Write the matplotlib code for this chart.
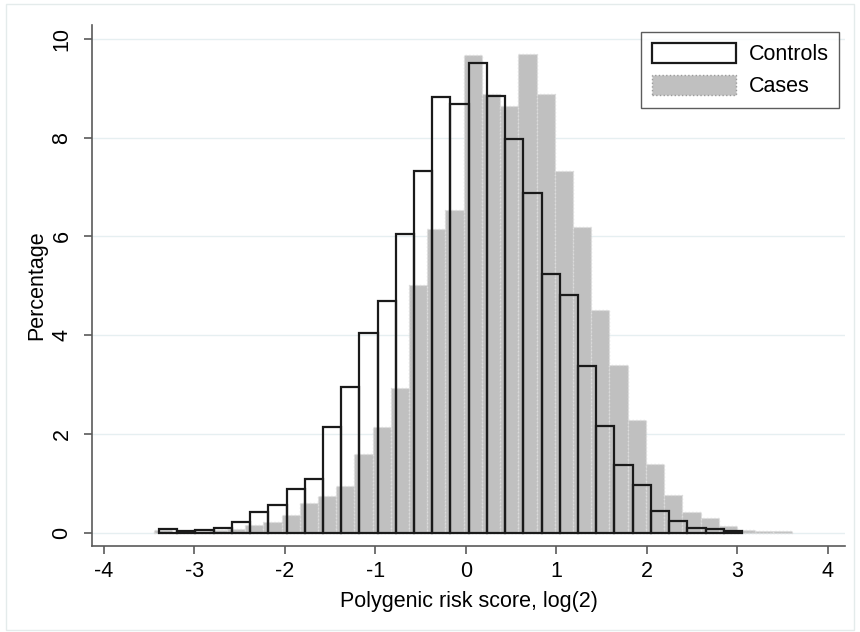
import numpy as np
import matplotlib
matplotlib.use("Agg")
import matplotlib.pyplot as plt
from matplotlib.patches import Patch, Rectangle

plt.rcParams['font.family'] = ['Liberation Sans', 'DejaVu Sans']

# Histogram data (percentage per bin)
bin_width = 0.2013
controls_start = -3.39
cases_start = -3.445
controls_pct = [0.07, 0.03, 0.06, 0.10, 0.23, 0.42, 0.57, 0.89, 1.10, 2.14,
                2.96, 4.05, 4.70, 6.05, 7.33, 8.83, 8.68, 9.52, 8.85, 7.98,
                6.87, 5.24, 4.81, 3.37, 2.17, 1.37, 0.97, 0.45, 0.24, 0.10,
                0.07, 0.04]
cases_pct = [0.05, 0.02, 0.04, 0.06, 0.07, 0.16, 0.23, 0.36, 0.61, 0.75,
             0.94, 1.60, 2.15, 2.93, 5.01, 6.15, 6.54, 9.68, 8.89, 8.64,
             9.69, 8.89, 7.33, 6.19, 4.51, 3.40, 2.29, 1.39, 0.77, 0.43,
             0.30, 0.14, 0.05, 0.04, 0.03]
x_ticks = [-4, -3, -2, -1, 0, 1, 2, 3, 4]
y_ticks = [0, 2, 4, 6, 8, 10]

W, H = 860, 632
fig = plt.figure(figsize=(W / 100, H / 100), dpi=100)
# axes box in pixels: left 92, right 845, top 25, bottom 546
ax = fig.add_axes([92 / W, 1 - 546 / H, (845 - 92) / W, (546 - 25) / H])

# light outer frame of the graph region
fig.add_artist(Rectangle((6 / W, 1 - 630 / H), (854 - 6) / W, (630 - 4) / H,
                         transform=fig.transFigure, fill=False,
                         edgecolor='#e4ebeb', lw=1))

cases_edges = cases_start + bin_width * np.arange(len(cases_pct))
controls_edges = controls_start + bin_width * np.arange(len(controls_pct))

ax.bar(cases_edges, cases_pct, width=bin_width, align='edge',
       color='#c0c0c0', edgecolor='#dcdcdc', linestyle=':', linewidth=1.0,
       zorder=2)
ax.bar(controls_edges, controls_pct, width=bin_width, align='edge',
       fill=False, edgecolor='#1a1a1a', linewidth=1.6, zorder=3)

ax.set_xlim(-4.13, 4.19)
ax.set_ylim(-0.265, 10.28)
ax.set_xticks(x_ticks)
ax.set_xticklabels([str(t) for t in x_ticks])
ax.set_yticks(y_ticks)
ax.set_yticklabels([str(t) for t in y_ticks], rotation=90, va='center')

for t in y_ticks:
    ax.axhline(t, color='#e6eff1', lw=1, zorder=1)

for side in ['top', 'right']:
    ax.spines[side].set_visible(False)
for side in ['left', 'bottom']:
    ax.spines[side].set_color('#5a5a5a')
    ax.spines[side].set_linewidth(1.2)
ax.tick_params(direction='out', length=6, width=1.2, color='#5a5a5a',
               labelsize=15.5, pad=5)
ax.tick_params(axis='y', pad=8)

ax.set_xlabel('Polygenic risk score, log(2)', fontsize=15.5, labelpad=6)
ax.set_ylabel('Percentage', fontsize=15.5, labelpad=3)

handles = [Patch(facecolor='white', edgecolor='#1a1a1a', linewidth=1.6, label='Controls'),
           Patch(facecolor='#c0c0c0', edgecolor='#9a9a9a', linestyle=':', linewidth=1.0, label='Cases')]
leg = ax.legend(handles=handles, loc='upper right',
                bbox_to_anchor=(839.3 / W, 1 - 32.3 / H), bbox_transform=fig.transFigure,
                fontsize=15.5, frameon=True, fancybox=False, edgecolor='#333333',
                handlelength=3.9, handleheight=1.05, handletextpad=0.6,
                labelspacing=0.45, borderpad=0.5, borderaxespad=0)
leg.get_frame().set_linewidth(1.0)

fig.savefig('out.png', dpi=100, facecolor='white')
